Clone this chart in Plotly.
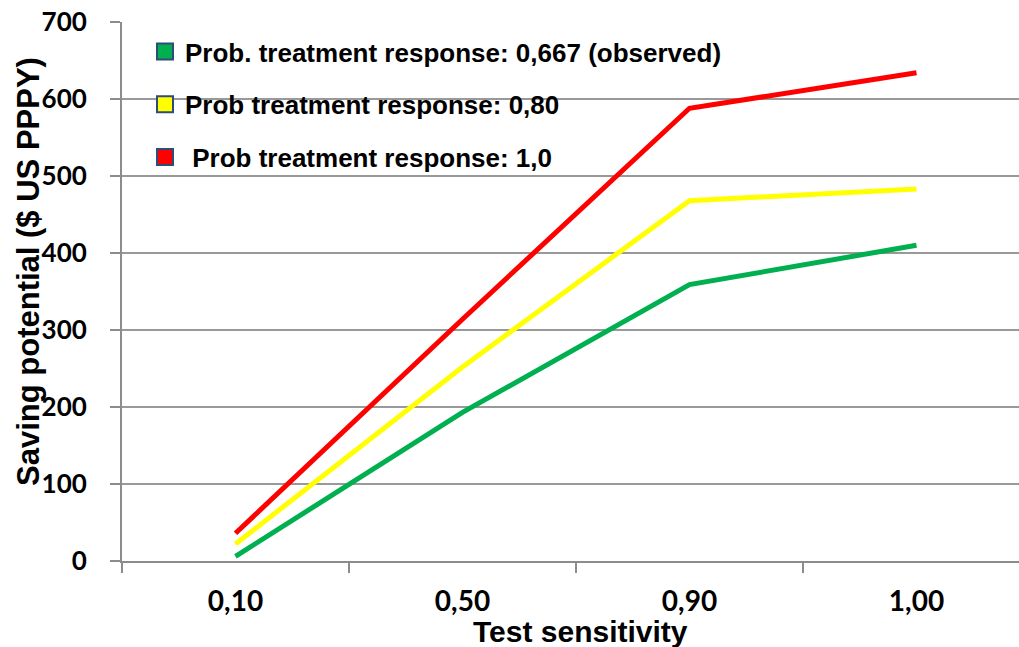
import plotly.graph_objects as go

# ---- data ----
sensitivity = ["0,10", "0,50", "0,90", "1,00"]
green_vals = [6, 193, 359, 410]
yellow_vals = [22, 252, 468, 483]
red_vals = [36, 314, 588, 634]

series_names = [
    "Prob. treatment response: 0,667 (observed)",
    "Prob treatment response: 0,80",
    " Prob treatment response: 1,0",
]
series_vals = [green_vals, yellow_vals, red_vals]
series_colors = ["#00B050", "#FFFF00", "#FF0000"]

W, H = 1019, 647
L, R, T, B = 122, 0, 22, 86
pw, ph = W - L - R, H - T - B


def px_x(x):
    return (x - L) / pw


def px_y(y):
    return (H - B - y) / ph


fig = go.Figure()

for name, vals, col in zip(series_names, series_vals, series_colors):
    fig.add_trace(go.Scatter(
        x=sensitivity, y=vals, mode="lines",
        line=dict(color=col, width=5),
        showlegend=False, hoverinfo="skip",
    ))

for i, (name, col) in enumerate(zip(series_names, series_colors)):
    fig.add_trace(go.Scatter(
        x=[None], y=[None], mode="markers", name=name,
        legendgroup=f"g{i}",
        marker=dict(symbol="square", size=19, color=col,
                    line=dict(color="#2F4B7C", width=2)),
    ))

fig.update_layout(
    width=W, height=H,
    margin=dict(l=L, r=R, t=T, b=B),
    paper_bgcolor="white", plot_bgcolor="white",
    showlegend=True,
    legend=dict(
        x=px_x(145), y=px_y(28), xanchor="left", yanchor="top",
        bgcolor="rgba(0,0,0,0)", borderwidth=0,
        traceorder="grouped", tracegroupgap=16,
        font=dict(family="Arial, Liberation Sans", size=26, color="black", weight="bold"),
        itemsizing="trace",
    ),
    xaxis=dict(
        type="category", range=[-0.5, (W - L) / 227 - 0.5],
        showgrid=False, showline=True, linecolor="#8C8C8C", linewidth=2,
        ticks="outside", tickson="boundaries", ticklen=10, tickwidth=2, tickcolor="#8C8C8C",
        tickfont=dict(family="Lato", size=28, color="black", weight="bold"),
        ticklabelstandoff=14,
        zeroline=False,
    ),
    yaxis=dict(
        range=[0, 700], tickvals=[0, 100, 200, 300, 400, 500, 600, 700],
        showgrid=True, gridcolor="#999999", gridwidth=2,
        showline=True, linecolor="#8C8C8C", linewidth=2,
        ticks="outside", ticklen=10, tickwidth=2, tickcolor="#8C8C8C",
        tickfont=dict(family="Lato", size=26, color="black", weight="bold"),
        ticklabelstandoff=18,
        zeroline=False,
    ),
    annotations=[
        dict(text="Saving potential ($ US PPPY)", textangle=-90,
             x=px_x(28), y=px_y(272), xref="paper", yref="paper",
             xanchor="center", yanchor="middle", showarrow=False,
             font=dict(family="Arial, Liberation Sans", size=31, color="black", weight="bold")),
        dict(text="Test sensitivity",
             x=px_x(580), y=px_y(631), xref="paper", yref="paper",
             xanchor="center", yanchor="middle", showarrow=False,
             font=dict(family="Arial, Liberation Sans", size=30, color="black", weight="bold")),
    ],
)

fig.write_html("out.html")
